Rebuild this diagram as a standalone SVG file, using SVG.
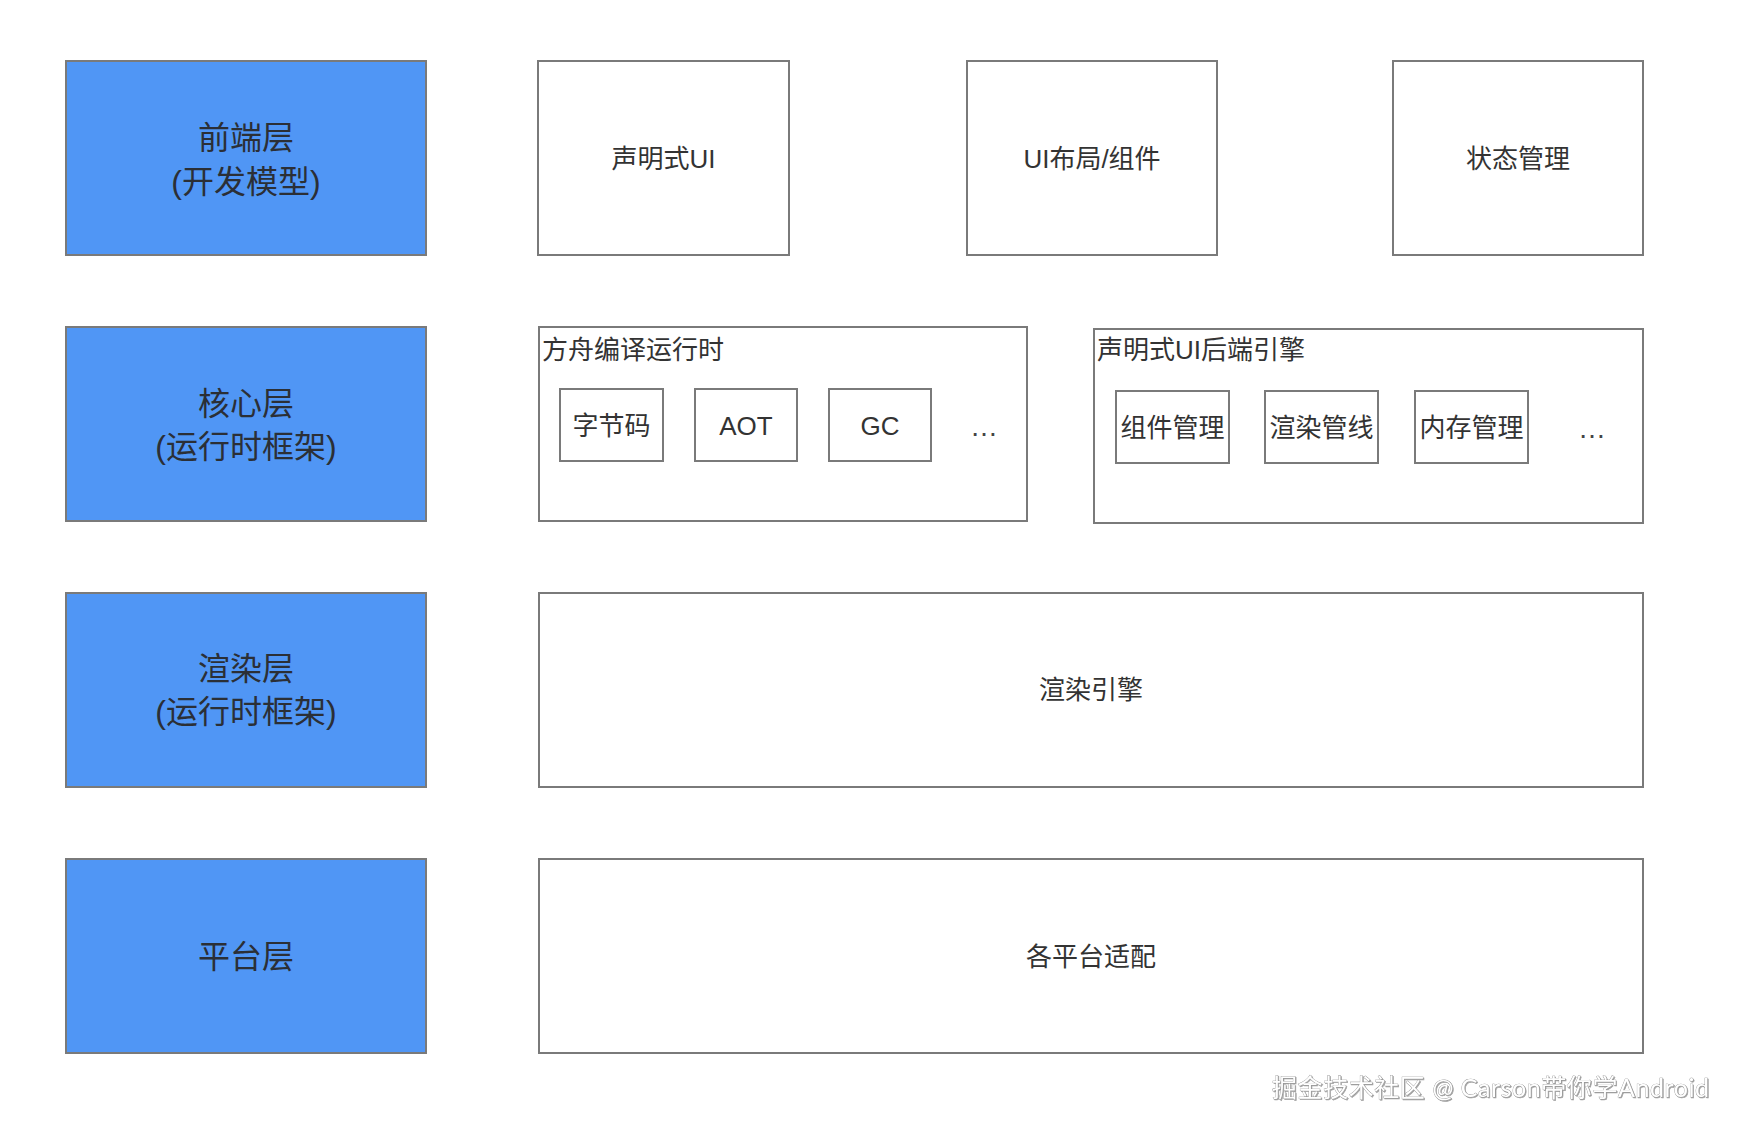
<svg xmlns="http://www.w3.org/2000/svg" width="1740" height="1132" viewBox="0 0 1740 1132">
<defs>
<style>
.layer{fill:#5096f5;stroke:#7a7a7a;stroke-width:2}
.box{fill:#ffffff;stroke:#7a7a7a;stroke-width:2}
.t{font-family:"Liberation Sans","Noto Sans CJK SC",sans-serif;fill:#333333;dominant-baseline:central}
.c{text-anchor:middle}
.big{font-size:32px;fill:#2b2f36}
.mid{font-size:26px}
.dots{font-family:"Liberation Sans",sans-serif;font-size:28px;fill:#444;text-anchor:middle}
.wm{font-family:"Lato","Noto Sans CJK SC",sans-serif;font-size:25px;fill:#ffffff;stroke:#8a8a8a;stroke-width:0.7;paint-order:stroke;dominant-baseline:central}
</style>
<filter id="sh" x="-5%" y="-30%" width="110%" height="160%">
<feDropShadow dx="1" dy="1" stdDeviation="0.6" flood-color="#666" flood-opacity="0.6"/>
</filter>
</defs>
<rect width="1740" height="1132" fill="#ffffff"/>

<g id="layer-frontend">
<rect class="layer" x="66" y="61" width="360" height="194"/>
<text class="t c big" x="246" y="138">前端层</text>
<text class="t c big" x="246" y="182">(开发模型)</text>
</g>
<g id="layer-core">
<rect class="layer" x="66" y="327" width="360" height="194"/>
<text class="t c big" x="246" y="404">核心层</text>
<text class="t c big" x="246" y="447">(运行时框架)</text>
</g>
<g id="layer-render">
<rect class="layer" x="66" y="593" width="360" height="194"/>
<text class="t c big" x="246" y="669">渲染层</text>
<text class="t c big" x="246" y="712">(运行时框架)</text>
</g>
<g id="layer-platform">
<rect class="layer" x="66" y="859" width="360" height="194"/>
<text class="t c big" x="246" y="957">平台层</text>
</g>

<g id="declarative-ui">
<rect class="box" x="538" y="61" width="251" height="194"/>
<text class="t c mid" x="663.5" y="159">声明式UI</text>
</g>
<g id="ui-layout">
<rect class="box" x="967" y="61" width="250" height="194"/>
<text class="t c mid" x="1092" y="159">UI布局/组件</text>
</g>
<g id="state-mgmt">
<rect class="box" x="1393" y="61" width="250" height="194"/>
<text class="t c mid" x="1518" y="159">状态管理</text>
</g>

<g id="ark-runtime">
<rect class="box" x="539" y="327" width="488" height="194"/>
<text class="t mid" x="542" y="350">方舟编译运行时</text>
</g>
<g id="bytecode">
<rect class="box" x="560" y="389" width="103" height="72"/>
<text class="t c mid" x="611.5" y="426">字节码</text>
</g>
<g id="aot">
<rect class="box" x="695" y="389" width="102" height="72"/>
<text class="t c mid" x="746" y="426">AOT</text>
</g>
<g id="gc">
<rect class="box" x="829" y="389" width="102" height="72"/>
<text class="t c mid" x="880" y="426">GC</text>
</g>
<g id="ark-more">
<text class="dots" x="984" y="436">…</text>
</g>

<g id="ui-backend">
<rect class="box" x="1094" y="329" width="549" height="194"/>
<text class="t mid" x="1097" y="350">声明式UI后端引擎</text>
</g>
<g id="component-mgmt">
<rect class="box" x="1116" y="391" width="113" height="72"/>
<text class="t c mid" x="1172.5" y="428">组件管理</text>
</g>
<g id="render-pipeline">
<rect class="box" x="1265" y="391" width="113" height="72"/>
<text class="t c mid" x="1321.5" y="428">渲染管线</text>
</g>
<g id="memory-mgmt">
<rect class="box" x="1415" y="391" width="113" height="72"/>
<text class="t c mid" x="1471.5" y="428">内存管理</text>
</g>
<g id="backend-more">
<text class="dots" x="1592" y="438">…</text>
</g>

<g id="render-engine">
<rect class="box" x="539" y="593" width="1104" height="194"/>
<text class="t c mid" x="1091" y="690">渲染引擎</text>
</g>
<g id="platform-adapt">
<rect class="box" x="539" y="859" width="1104" height="194"/>
<text class="t c mid" x="1091" y="957">各平台适配</text>
</g>

<g id="connectors"></g>

<g id="watermark">
<text class="wm" x="1272" y="1087" textLength="437" lengthAdjust="spacing" filter="url(#sh)">掘金技术社区 @ Carson带你学Android</text>
</g>
</svg>
